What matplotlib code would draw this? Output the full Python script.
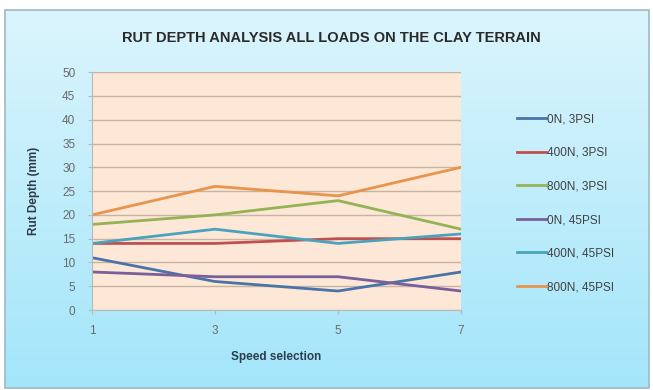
import matplotlib
matplotlib.use('agg')
import matplotlib.pyplot as plt
import numpy as np
from matplotlib.patches import Rectangle

plt.rcParams['font.family'] = ['Liberation Sans', 'DejaVu Sans']

speed = [1, 3, 5, 7]
labels = ["0N, 3PSI", "400N, 3PSI", "800N, 3PSI", "0N, 45PSI", "400N, 45PSI", "800N, 45PSI"]
rut_0n_3psi = [11, 6, 4, 8]
rut_400n_3psi = [14, 14, 15, 15]
rut_800n_3psi = [18, 20, 23, 17]
rut_0n_45psi = [8, 7, 7, 4]
rut_400n_45psi = [14, 17, 14, 16]
rut_800n_45psi = [20, 26, 24, 30]
series = [rut_0n_3psi, rut_400n_3psi, rut_800n_3psi, rut_0n_45psi, rut_400n_45psi, rut_800n_45psi]
colors = ["#4a74a8", "#c0504d", "#93b354", "#7a5f9a", "#4aa3bd", "#e8944c"]

fig = plt.figure(figsize=(6.53, 3.90), dpi=100)
fig.patch.set_facecolor('white')

# light blue gradient panel behind everything
bg = fig.add_axes([0, 0, 1, 1], zorder=-5)
bg.set_xlim(0, 653)
bg.set_ylim(390, 0)
bg.axis('off')
grad = np.linspace(0, 1, 256).reshape(-1, 1)
top = np.array([0.86, 0.96, 0.99])
bot = np.array([0.64, 0.90, 0.98])
img = top[None, None, :] * (1 - grad[:, :, None]) + bot[None, None, :] * grad[:, :, None]
bg.imshow(img, extent=[5, 649, 388, 10], aspect='auto')
bg.add_patch(Rectangle((5, 10), 644, 378, fill=False, edgecolor='#9fb8c4', lw=1.2))

ax = fig.add_axes([0.141, 0.205, 0.565, 0.61])
ax.set_facecolor('#fde8d8')
for y, l, c in zip(series, labels, colors):
    ax.plot(speed, y, color=c, lw=2.0, label=l)

ax.set_xlim(1, 7)
ax.set_ylim(0, 50)
ax.set_xticks(speed)
ax.set_yticks(range(0, 51, 5))
ax.yaxis.grid(True, color='#c9b3a2', lw=1.0)
ax.set_axisbelow(True)
for s in ['top', 'right']:
    ax.spines[s].set_visible(False)
for s in ['left', 'bottom']:
    ax.spines[s].set_color('#b9b9b9')
ax.tick_params(axis='both', colors='#b9b9b9', labelcolor='#6a6a6a', labelsize=8.5, length=3)
ax.tick_params(axis='x', pad=8)
ax.tick_params(axis='y', pad=9)

ax.set_xlabel("Speed selection", fontsize=8.5, fontweight='bold', color='#2c3e4c', labelpad=10)
ax.set_ylabel("Rut Depth (mm)", fontsize=8.5, fontweight='bold', color='#2c3e4c', labelpad=16)
fig.text(0.508, 0.902, "RUT DEPTH ANALYSIS ALL LOADS ON THE CLAY TERRAIN",
         ha='center', va='center', fontsize=10.5, fontweight='bold', color='#2a2a2a')

fig.legend(loc='upper left', bbox_to_anchor=(0.775, 0.737), frameon=False,
           fontsize=8.5, labelspacing=1.83, handlelength=2.5, handletextpad=0.1,
           labelcolor='#404040')

plt.savefig("out.png", dpi=100)
